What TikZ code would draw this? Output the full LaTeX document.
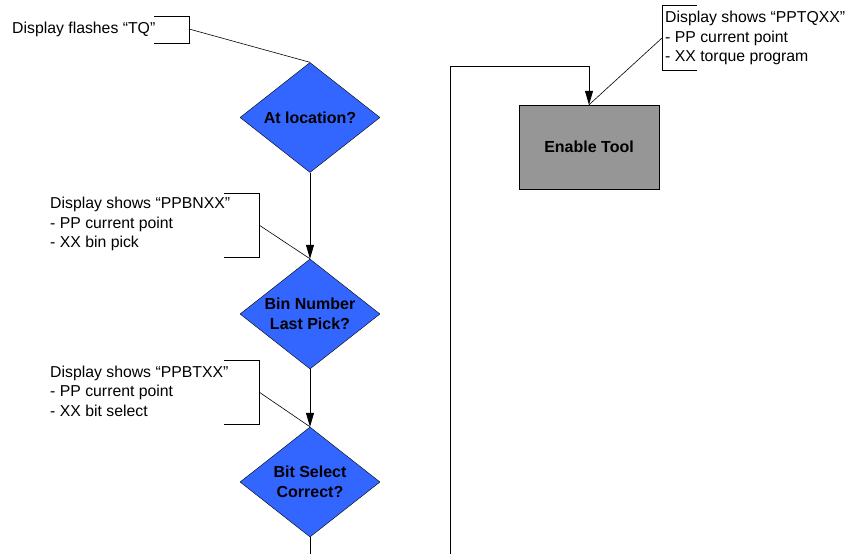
\documentclass[tikz,border=0pt]{standalone}
\usepackage{fontspec}
\setmainfont{Liberation Sans}
\usetikzlibrary{shapes.geometric,arrows.meta}

\tikzset{
	decision/.style={diamond, draw=black, fill=blueD, shape aspect=1.27, minimum width=140pt, minimum height=110pt, inner sep=-3pt, align=center, font=\fontsize{16}{19.5}\selectfont\bfseries},
	process/.style={rectangle, draw=black, fill=grayP, minimum width=140pt, minimum height=84pt, align=center, font=\fontsize{16}{19.5}\selectfont\bfseries},
	note/.style={anchor=west, align=left, inner sep=0pt, font=\fontsize{15.8}{19.5}\selectfont},
	flow/.style={draw=black, line width=0.8pt, -{Triangle[length=14pt,width=8pt]}},
	plain/.style={draw=black, line width=0.8pt},
	callout/.style={draw=black, line width=0.6pt}
}
\definecolor{blueD}{HTML}{3366FF}
\definecolor{grayP}{HTML}{969696}

\begin{document}
\begin{tikzpicture}[x=1pt, y=-1pt]
		\useasboundingbox (0,0) rectangle (846,554);
		% flow chart
		\node[decision] (loc) at (310,117.5) {At location?};
		\node[decision] (bin) at (310,314) {Bin Number\\Last Pick?};
		\node[decision] (bit) at (310,482) {Bit Select\\Correct?};
		\node[process] (tool) at (589,147) {Enable Tool};
		\coordinate (down) at (310,554);
		\coordinate (up) at (450,554);
		\coordinate (corner) at (450,66);
		\draw[flow] (loc.south) -- (bin.north);
		\draw[flow] (bin.south) -- (bit.north);
		\draw[plain] (bit.south) -- (down);
		\draw[flow] (up) -- (corner) -| (tool.north);
		% notes
		\node[note] (tq) at (12,29) {Display flashes “TQ”};
		\node[note] (pbn) at (50,224) {Display shows “PPBNXX”\\- PP current point\\- XX bin pick};
		\node[note] (pbt) at (50,391) {Display shows “PPBTXX”\\- PP current point\\- XX bit select};
		\node[note] (ptq) at (665,38) {Display shows “PPTQXX”\\- PP current point\\- XX torque program};
		% brackets
		\draw[callout] (154,16) -- (189,16) -- (189,43) -- (154,43);
		\draw[callout] (224,193) -- (259,193) -- (259,257) -- (224,257);
		\draw[callout] (224,360) -- (259,360) -- (259,424) -- (224,424);
		\draw[callout] (697,5) -- (662,5) -- (662,70) -- (697,70);
		\coordinate (c1) at (189,29);
		\coordinate (c2) at (259,225);
		\coordinate (c3) at (259,392);
		\coordinate (c4) at (662,38);
		\draw[callout] (c1) -- (loc.north);
		\draw[callout] (c2) -- (bin.north);
		\draw[callout] (c3) -- (bit.north);
		\draw[callout] (c4) -- (tool.north);
	\end{tikzpicture}
\end{document}
